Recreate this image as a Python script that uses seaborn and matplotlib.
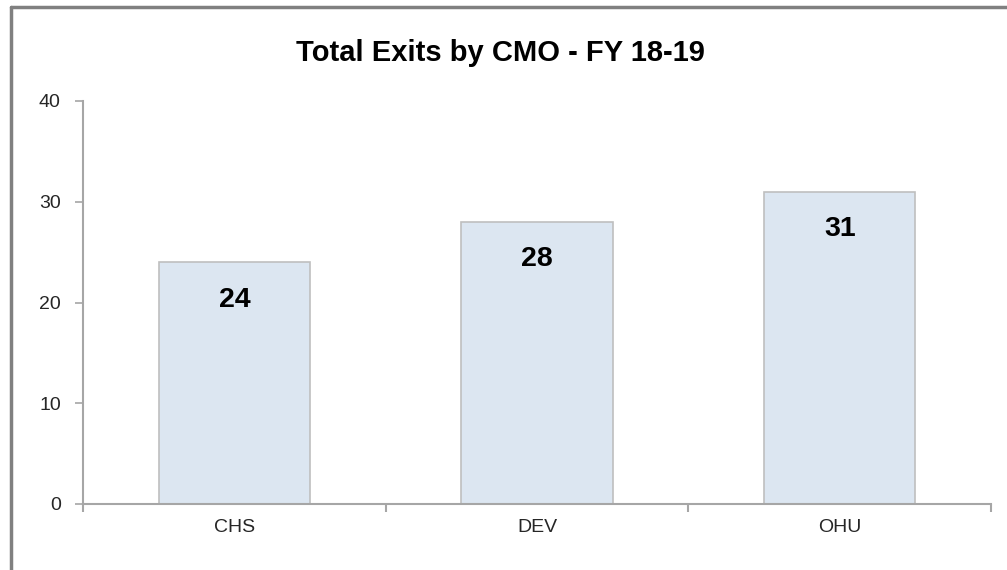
import numpy as np
import pandas as pd
import matplotlib
matplotlib.use("Agg")
import matplotlib.pyplot as plt
import seaborn as sns
from matplotlib.lines import Line2D

# chart data
cmos = ['CHS', 'DEV', 'OHU']
exits = [24, 28, 31]
title = 'Total Exits by CMO - FY 18-19'

df = pd.DataFrame({'CMO': cmos, 'Exits': exits})

sns.set_style('white')
plt.rcParams['font.family'] = ['Liberation Sans', 'DejaVu Sans']

fig = plt.figure(figsize=(10.07, 5.70), dpi=100)
ax = fig.add_axes([83 / 1007, 1 - 504 / 570, 908 / 1007, 403 / 570])

sns.barplot(data=df, x='CMO', y='Exits', color='#DCE6F1', edgecolor='#BFBFBF',
            linewidth=1.2, width=0.5, saturation=1, ax=ax)

ax.set_xlim(-0.5, 2.5)
ax.set_ylim(0, 40)
ax.set_yticks([0, 10, 20, 30, 40])
ax.set_xlabel('')
ax.set_ylabel('')

# value labels inside bars near the top
for i, v in enumerate(exits):
    ax.annotate(str(v), xy=(i, v), xytext=(0, -27), textcoords='offset points',
                ha='center', va='center', fontsize=20.5, fontweight='bold', color='black')

axis_col = '#A6A6A6'
for side in ['top', 'right']:
    ax.spines[side].set_visible(False)
for side in ['left', 'bottom']:
    ax.spines[side].set_color(axis_col)
    ax.spines[side].set_linewidth(1.5)

ax.tick_params(axis='y', which='major', direction='out', length=6, width=1.2,
               color=axis_col, labelsize=14, pad=10, left=True)
ax.tick_params(axis='x', which='major', length=0, labelsize=14, pad=11)
ax.set_xticks([-0.5, 0.5, 1.5, 2.5], minor=True)
ax.tick_params(axis='x', which='minor', direction='out', length=6, width=1.5,
               color=axis_col, bottom=True)
ax.grid(False)

fig.suptitle(title, x=0.497, y=1 - 53 / 570, va='center', fontsize=21, fontweight='bold',
             color='black')

# outer chart frame (top and left edges visible)
fig.add_artist(Line2D([10.5 / 1007, 10.5 / 1007], [0, 1 - 6.5 / 570],
                      transform=fig.transFigure, color='#808080', linewidth=2.5))
fig.add_artist(Line2D([10.5 / 1007, 1], [1 - 6.5 / 570, 1 - 6.5 / 570],
                      transform=fig.transFigure, color='#808080', linewidth=2.5))

fig.savefig('out.png', dpi=100)
